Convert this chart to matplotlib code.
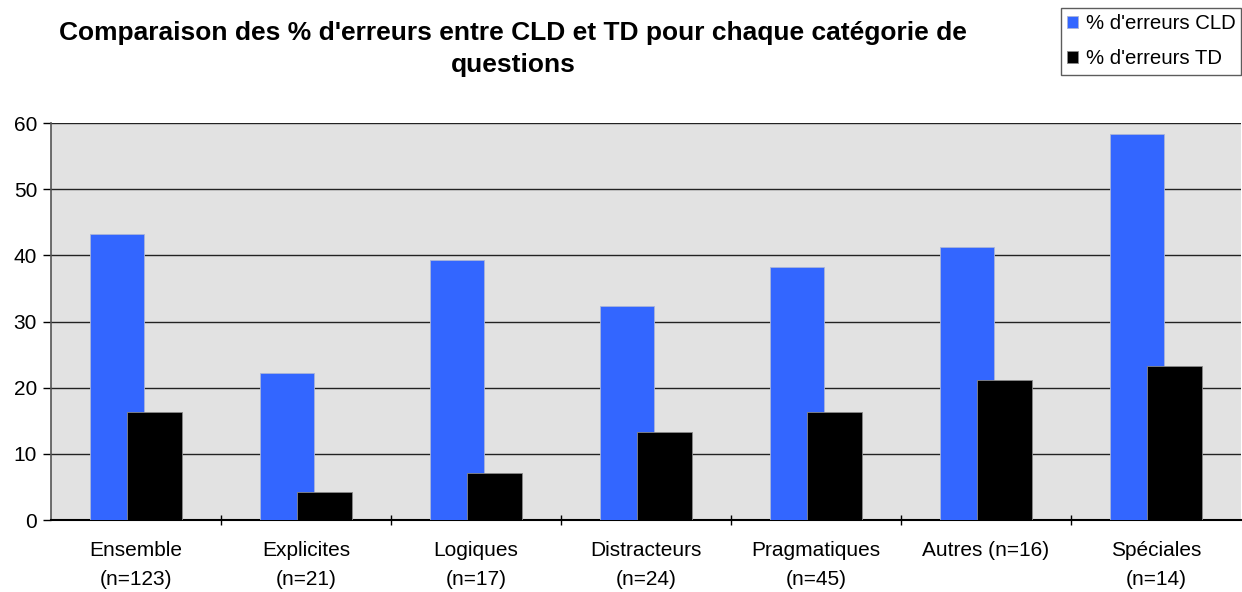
import matplotlib.pyplot as plt
import numpy as np

plt.rcParams['font.family'] = ['Liberation Sans', 'DejaVu Sans']

# ------------------ DONNÉES ------------------
categories = ['Ensemble\n(n=123)', 'Explicites\n(n=21)', 'Logiques\n(n=17)',
              'Distracteurs\n(n=24)', 'Pragmatiques\n(n=45)', 'Autres (n=16)',
              'Spéciales\n(n=14)']
erreurs_cld = [43.2, 22.2, 39.3, 32.3, 38.2, 41.2, 58.3]
erreurs_td = [16.3, 4.2, 7.1, 13.3, 16.3, 21.1, 23.3]

x = np.arange(len(categories))

# ------------------ GRAPHIQUE ------------------
fig = plt.figure(figsize=(12.42, 5.92), dpi=100)
ax = fig.add_axes([0.041, 0.1216, 0.958, 0.6706])
ax.set_facecolor('#e2e2e2')

ax.bar(x - 0.11, erreurs_cld, width=0.32, color='#3366ff',
       edgecolor='#aab4d8', linewidth=0.6, label="% d'erreurs CLD", zorder=3)
ax.bar(x + 0.11, erreurs_td, width=0.32, color='black',
       edgecolor='#8a8a8a', linewidth=0.6, label="% d'erreurs TD", zorder=4)

ax.set_xlim(-0.5, len(categories) - 0.5)
ax.set_ylim(0, 60)
ax.set_yticks(range(0, 61, 10))
ax.yaxis.grid(True, color='#222222', linewidth=1.0, zorder=1)
ax.set_axisbelow(True)

ax.set_xticks(x)
ax.set_xticklabels(categories, fontsize=15, linespacing=1.7)
ax.set_xticks(np.arange(0.5, len(categories) - 0.5), minor=True)
ax.tick_params(axis='x', which='major', length=0, pad=15)
ax.tick_params(axis='x', which='minor', length=7, direction='inout', width=1)
ax.tick_params(axis='y', labelsize=15, length=6, width=1, pad=4)

for s in ['top', 'right']:
    ax.spines[s].set_visible(False)
ax.spines['left'].set_color('#555555')
ax.spines['bottom'].set_color('black')
ax.spines['left'].set_linewidth(1.2)
ax.spines['bottom'].set_linewidth(1.5)

fig.text(0.413, 0.9175,
         "Comparaison des % d'erreurs entre CLD et TD pour chaque catégorie de\nquestions",
         ha='center', va='center', fontsize=19, fontweight='bold', linespacing=1.45)

leg = fig.legend(loc='upper right', bbox_to_anchor=(0.9995, 0.9865), fontsize=14.7,
                 frameon=True, fancybox=False, edgecolor='#333333',
                 handlelength=0.55, handleheight=0.55, handletextpad=0.35,
                 borderpad=0.3, labelspacing=0.8, borderaxespad=0)
leg.get_frame().set_linewidth(1.0)

fig.savefig('out.png', dpi=100)
